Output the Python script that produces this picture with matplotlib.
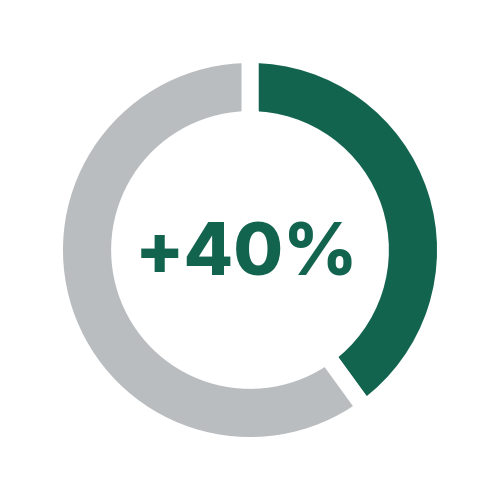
import matplotlib
matplotlib.use("Agg")
import matplotlib.pyplot as plt

labels = ["Increase", "Rest"]
values = [40, 60]
colors = ["#13644F", "#B9BDBF"]
center_label = "+40%"

W, H, DPI = 501, 500, 100
R_PX = 195.5
fig = plt.figure(figsize=(W / DPI, H / DPI), dpi=DPI, facecolor="white")
ax = fig.add_axes([0, 0, 1, 1])
ax.pie(values, colors=colors, startangle=90, counterclock=False, radius=1.0,
       wedgeprops=dict(width=0.333, edgecolor="white", linewidth=12.2))
ax.set_xlim(-250 / R_PX, 251 / R_PX)
ax.set_ylim(-250 / R_PX, 250 / R_PX)
ax.set_aspect("auto")
ax.axis("off")
ax.text(-4 / R_PX, -7 / R_PX, center_label, ha="center", va="center",
        fontsize=52, fontweight="heavy", family=["Inter", "DejaVu Sans"],
        color=colors[0])
fig.savefig("out.png", dpi=DPI, facecolor="white")
